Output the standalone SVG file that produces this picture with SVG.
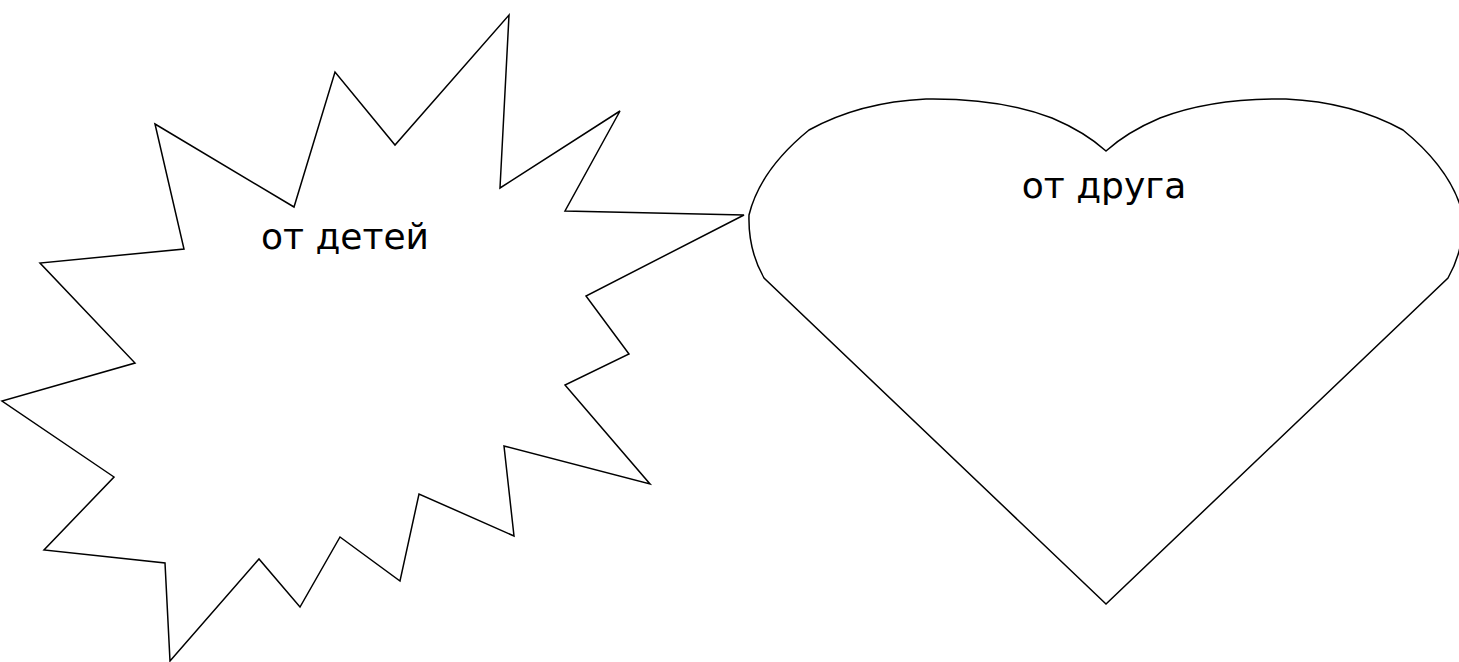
<svg xmlns="http://www.w3.org/2000/svg" width="1459" height="662" viewBox="0 0 1459 662">
<style>
.shape{fill:#ffffff;stroke:#000000;stroke-width:1.5;stroke-linejoin:miter}
.lbl{font-family:"DejaVu Sans","Liberation Sans",sans-serif;font-size:36px;fill:#000000;text-anchor:middle}
</style>
<rect width="1459" height="662" fill="#ffffff"/>
<g id="connectors"></g>
<g id="node-children">
<polygon class="shape" points="155,124 294,207 335,72 395,145 509,15 500,188 620,111 565,211 744,215 586,296 629,354 565,385 650,484 504,446 514,536 419,494 400,581 340,537 300,607 259,559 170,661 165,563 44,550 114,477 2,401 135,363 40,263 184,249"/>
<text class="lbl" x="345" y="249">от детей</text>
</g>
<g id="node-friend">
<path class="shape" d="M1106,151 Q1085,132 1052,118 Q1000,98 926,99 Q860,102 809,130 Q760,170 749,215 Q748,250 764,278 L1106,604 L1448,278 Q1464,250 1463,215 Q1452,170 1403,130 Q1352,102 1286,99 Q1212,98 1160,118 Q1127,132 1106,151 Z"/>
<text class="lbl" x="1104" y="198">от друга</text>
</g>
</svg>
